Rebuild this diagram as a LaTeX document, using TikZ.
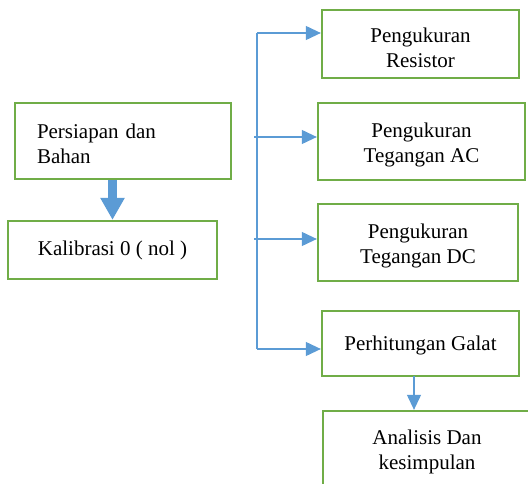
\documentclass[tikz,border=0pt]{standalone}
\usepackage{fontspec}
\setmainfont{Liberation Serif}
\usetikzlibrary{arrows.meta}
\definecolor{boxgreen}{HTML}{70AD47}
\definecolor{lineblue}{HTML}{5B9BD5}
\newcommand{\tstrut}[1]{\rule{0pt}{#1}}
\begin{document}
\begin{tikzpicture}[x=1pt,y=-1pt,
  box/.style={draw=boxgreen, line width=2.3pt, inner sep=0pt, align=center,
    font=\fontsize{21}{25}\selectfont},
  conn/.style={draw=lineblue, line width=1.1pt},
  connarrow/.style={conn, -{Triangle[length=15pt,width=14pt]}},
  bigarrow/.style={draw=lineblue, line width=9pt, -{Triangle[length=22pt,width=23pt]}}
]
\path[use as bounding box] (0,0) rectangle (528,484);

\node[box, minimum width=216pt, minimum height=76pt, text width=172pt, align=left, inner xsep=22pt] (pers) at (123,141) {\tstrut{21pt}Persiapan dan\\Bahan};
\node[box, minimum width=209pt, minimum height=58pt] (kal) at (112.5,250) {Kalibrasi 0 ( nol )};

\node[box, minimum width=197pt, minimum height=68pt] (res) at (420.5,44) {\tstrut{23pt}Pengukuran\\Resistor};
\node[box, minimum width=207pt, minimum height=77pt] (ac) at (421.5,141.5) {\tstrut{22pt}Pengukuran\\Tegangan AC};
\node[box, minimum width=200pt, minimum height=77pt] (dc) at (418,242.5) {\tstrut{22pt}Pengukuran\\Tegangan DC};
\node[box, minimum width=197pt, minimum height=65pt] (gal) at (420.5,343.5) {\tstrut{18pt}Perhitungan Galat};
\node[box, minimum width=208pt, minimum height=81pt] (ana) at (427,451.5) {Analisis Dan\\kesimpulan};

% thick arrow
\draw[bigarrow] (kal.north |- pers.south) -- (kal.north);

% trunk
\coordinate (ttop) at (257,33);
\coordinate (tbot) at (257,349);
\coordinate (tac) at (254,137);
\coordinate (tdc) at (254,239);
\draw[conn] (ttop) -- (tbot);
\draw[connarrow] (ttop) -- (res.west |- ttop);
\draw[connarrow] (tac) -- (ac.west |- tac);
\draw[connarrow] (tdc) -- (dc.west |- tdc);
\draw[connarrow] (tbot) -- (gal.west |- tbot);

\coordinate (gdown) at (414,376);
\draw[connarrow] (gdown) -- (gdown |- ana.north);
\end{tikzpicture}
\end{document}
